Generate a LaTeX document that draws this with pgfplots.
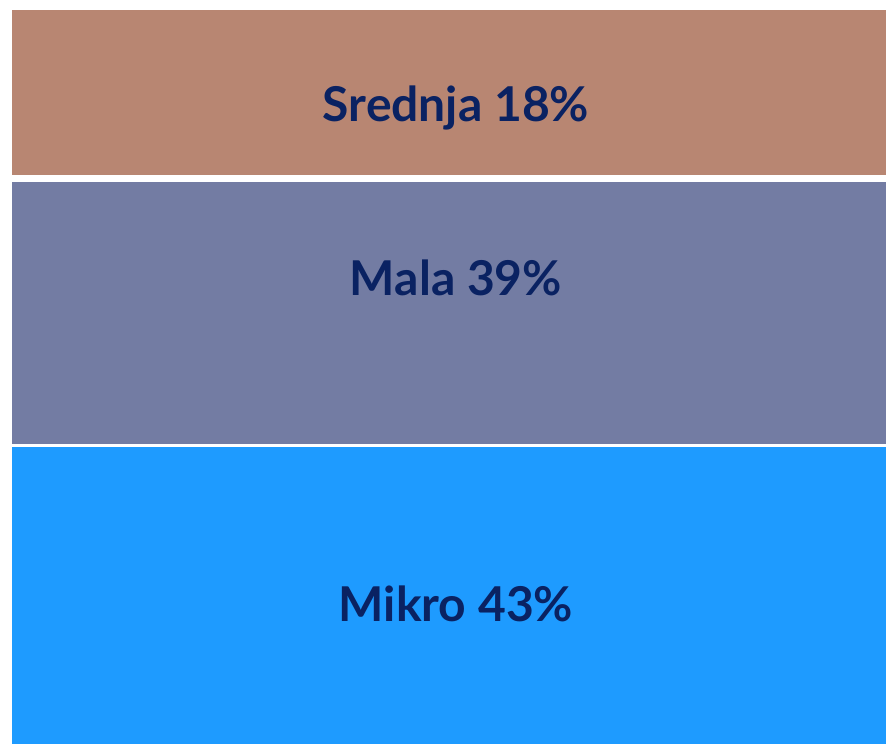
\documentclass[border=0pt]{standalone}
\usepackage{pgfplots}
\pgfplotsset{compat=1.18}
\usepackage{fontspec}
\setmainfont{Lato}
\definecolor{cSred}{RGB}{184,134,114}
\definecolor{cMala}{RGB}{115,124,163}
\definecolor{cMikro}{RGB}{30,155,255}
\definecolor{cText}{RGB}{10,34,98}
\begin{document}
\begin{tikzpicture}[x=1pt,y=1pt]
\begin{axis}[
  hide axis, scale only axis,
  width=886pt, height=744pt,
  xmin=0, xmax=886, ymin=0, ymax=744,
  ybar stacked, bar width=874,
  clip=false,
]
% segment heights (px): Mikro, gap, Mala, gap, Srednja
\addplot[fill=cMikro, draw=none] coordinates {(449,297)};
\addplot[fill=white, draw=none] coordinates {(449,3)};
\addplot[fill=cMala, draw=none] coordinates {(449,262)};
\addplot[fill=white, draw=none] coordinates {(449,7)};
\addplot[fill=cSred, draw=none] coordinates {(449,165)};
\path (rel axis cs:0,0) -- (rel axis cs:1,1);
\coordinate (lS) at (axis cs:456,636);
\coordinate (lM) at (axis cs:456,466);
\coordinate (lK) at (axis cs:456,140);
\end{axis}
\tikzset{lbl/.style={text=cText, font=\fontsize{48}{52}\selectfont\bfseries}}
\node[lbl] at (lS) {Srednja 18\%};
\node[lbl] at (lM) {Mala 39\%};
\node[lbl] at (lK) {Mikro 43\%};
\end{tikzpicture}
\end{document}
